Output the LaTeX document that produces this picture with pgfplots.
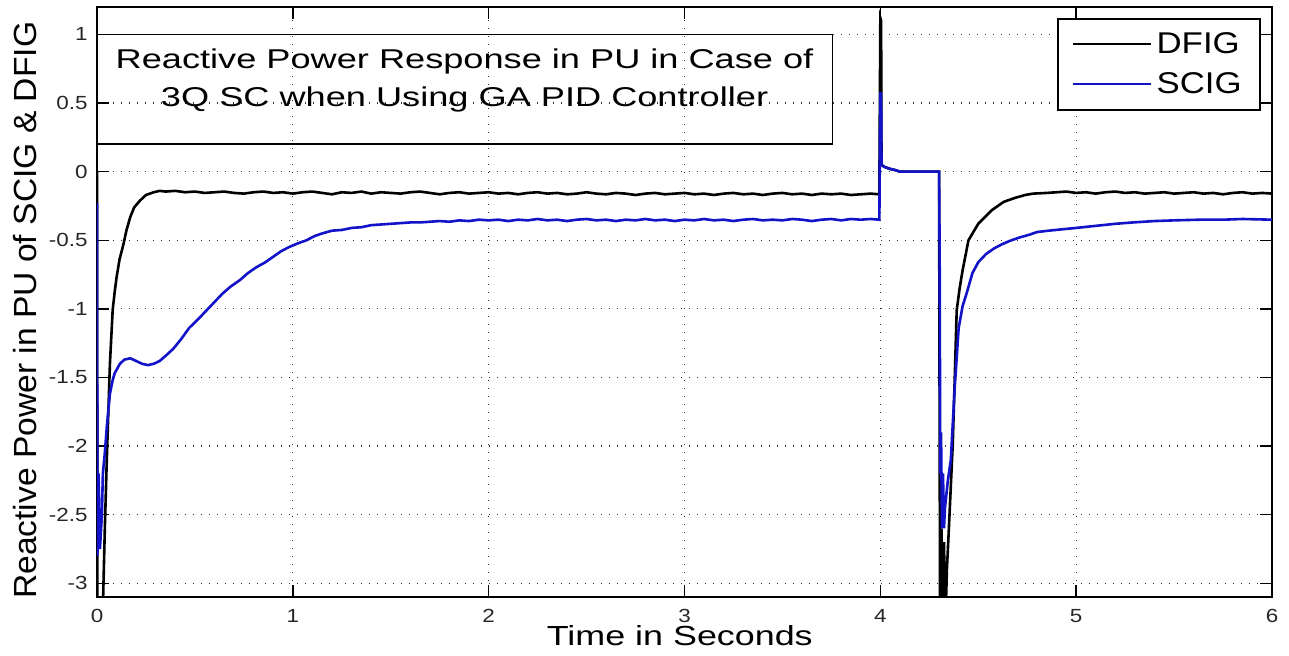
\documentclass[border=0pt]{standalone}
\usepackage{fontspec}
\setmainfont{Liberation Sans}
\newfontfamily\titlefont[FakeStretch=1.33]{Liberation Sans}
\newfontfamily\labfont[FakeStretch=1.3]{Liberation Sans}
\newfontfamily\tickfont[FakeStretch=1.18]{Liberation Sans}
\newfontfamily\legfont[FakeStretch=1.16]{Liberation Sans}
\newfontfamily\yfont[FakeStretch=1.05]{Liberation Sans}
\usepackage{pgfplots}
\pgfplotsset{compat=1.18}
\definecolor{scig}{RGB}{18,18,200}

\begin{document}
\begin{tikzpicture}
\path[use as bounding box] (-48.5pt,-29pt) rectangle (596pt,298.5pt);
\begin{axis}[
  at={(0pt,0pt)}, anchor=south west,
  scale only axis, width=587.5pt, height=295pt,
  xmin=0, xmax=6, ymin=-3.1, ymax=1.2,
  xtick={0,1,2,3,4,5,6},
  xticklabels={0,1,2,3,4,5,6},
  ytick={-3,-2.5,-2,-1.5,-1,-0.5,0,0.5,1},
  yticklabels={-3,-2.5,-2,-1.5,-1,-0.5,0,0.5,1},
  tick align=inside,
  major tick length=6pt,
  axis line style={line width=0.8pt},
  every tick/.style={black, line width=0.7pt},
  grid=major,
  major grid style={black!80, line width=0.6pt, dash pattern=on 0.6pt off 3.4pt},
  xticklabel style={font=\tickfont\fontsize{9.5}{11}\selectfont, text=black!85, anchor=base, yshift=-12.5pt},
  yticklabel style={font=\tickfont\fontsize{9.5}{11}\selectfont, text=black!85, anchor=east, inner sep=0pt, xshift=-4.5pt},
  xlabel={Time in Seconds},
  xlabel style={font=\labfont\fontsize{13.8}{16}\selectfont, at={(rel axis cs:0.496,0)}, anchor=center, yshift=-19.5pt, inner sep=0pt},
  ylabel={Reactive Power in PU of SCIG \& DFIG},
  ylabel style={font=\yfont\fontsize{16}{19}\selectfont, at={(rel axis cs:0,0.486)}, anchor=center, yshift=36pt, inner sep=0pt},
  legend cell align=left,
  legend image code/.code={\draw[#1, line width=1pt] (0pt,0pt) -- (39pt,0pt);},
  legend style={at={(rel axis cs:1,1)}, anchor=north east, xshift=-5.5pt, yshift=-5.5pt,
    draw=black, line width=0.8pt, inner xsep=6.75pt, inner ysep=6.75pt, row sep=8pt,
    font=\legfont\fontsize{15}{18}\selectfont,
    nodes={inner ysep=0pt, inner xsep=2.5pt}},
  clip=true,
]
% DFIG
\addplot[black, line width=1.3pt] coordinates {
(0,0) (0.002,-3.3) (0.028,-3.3) (0.04,-2.6) (0.05,-2.1) (0.058,-1.75)
(0.066,-1.40) (0.08,-1.01) (0.09,-0.88) (0.10,-0.77) (0.115,-0.64)
(0.135,-0.53) (0.15,-0.43) (0.17,-0.33) (0.19,-0.26) (0.22,-0.21)
(0.25,-0.17) (0.29,-0.15) (0.32,-0.14)
(0.35,-0.145) (0.40,-0.14) (0.45,-0.15) (0.50,-0.145) (0.55,-0.155)
(0.60,-0.15) (0.65,-0.145) (0.70,-0.155) (0.75,-0.16) (0.80,-0.15)
(0.85,-0.145) (0.90,-0.155) (0.95,-0.15) (1.00,-0.16) (1.05,-0.15)
(1.10,-0.145) (1.15,-0.155) (1.20,-0.165) (1.25,-0.15) (1.30,-0.155)
(1.35,-0.145) (1.40,-0.16) (1.45,-0.15) (1.50,-0.155) (1.55,-0.16)
(1.60,-0.15) (1.65,-0.145) (1.70,-0.155) (1.75,-0.165) (1.80,-0.155)
(1.85,-0.15) (1.90,-0.16) (1.95,-0.155) (2.00,-0.15) (2.05,-0.16)
(2.10,-0.155) (2.15,-0.165) (2.20,-0.155) (2.25,-0.15) (2.30,-0.16)
(2.35,-0.155) (2.40,-0.165) (2.45,-0.16) (2.50,-0.15) (2.55,-0.16)
(2.60,-0.165) (2.65,-0.155) (2.70,-0.16) (2.75,-0.17) (2.80,-0.16)
(2.85,-0.155) (2.90,-0.165) (2.95,-0.16) (3.00,-0.155) (3.05,-0.165)
(3.10,-0.16) (3.15,-0.17) (3.20,-0.16) (3.25,-0.155) (3.30,-0.165)
(3.35,-0.16) (3.40,-0.17) (3.45,-0.16) (3.50,-0.155) (3.55,-0.165)
(3.60,-0.16) (3.65,-0.17) (3.70,-0.16) (3.75,-0.165) (3.80,-0.16)
(3.85,-0.17) (3.90,-0.165) (3.95,-0.16) (3.995,-0.165)
(4.000,1.12) (4.004,1.10) (4.006,0.05) (4.02,0.035) (4.05,0.02)
(4.08,0.01) (4.10,0.0) (4.30,0.0)
(4.305,-3.3) (4.312,-2.6) (4.318,-3.3) (4.325,-2.7) (4.332,-3.3)
(4.34,-2.9) (4.35,-2.6) (4.37,-1.98) (4.38,-1.5)
(4.39,-1.01) (4.405,-0.85) (4.42,-0.72) (4.45,-0.50) (4.50,-0.38)
(4.57,-0.28) (4.63,-0.22) (4.69,-0.19) (4.74,-0.17) (4.78,-0.16)
(4.85,-0.155) (4.90,-0.15) (4.95,-0.145) (5.00,-0.155) (5.05,-0.15)
(5.10,-0.16) (5.15,-0.15) (5.20,-0.145) (5.25,-0.155) (5.30,-0.15)
(5.35,-0.16) (5.40,-0.155) (5.45,-0.15) (5.50,-0.16) (5.55,-0.155)
(5.60,-0.15) (5.65,-0.16) (5.70,-0.155) (5.75,-0.165) (5.80,-0.155)
(5.85,-0.15) (5.90,-0.16) (5.95,-0.155) (6.00,-0.16)
};
% SCIG
\addplot[scig, line width=1.3pt] coordinates {
(0,-0.23) (0.002,-2.8) (0.008,-2.2) (0.015,-2.75) (0.025,-2.5) (0.03,-2.2) (0.04,-2.05)
(0.05,-1.86) (0.066,-1.62) (0.08,-1.52) (0.09,-1.47) (0.117,-1.40)
(0.14,-1.37) (0.17,-1.36) (0.20,-1.38) (0.23,-1.40) (0.26,-1.41)
(0.29,-1.40) (0.32,-1.38) (0.36,-1.33) (0.39,-1.29) (0.43,-1.22)
(0.47,-1.14) (0.52,-1.07) (0.56,-1.01) (0.60,-0.95) (0.64,-0.89)
(0.68,-0.84) (0.73,-0.79) (0.77,-0.74) (0.81,-0.70) (0.86,-0.66)
(0.90,-0.62) (0.94,-0.58) (0.98,-0.55) (1.03,-0.52) (1.07,-0.50)
(1.11,-0.47) (1.15,-0.45) (1.20,-0.43) (1.25,-0.425) (1.30,-0.41)
(1.35,-0.405) (1.40,-0.39) (1.45,-0.385) (1.50,-0.38) (1.55,-0.375)
(1.60,-0.37) (1.65,-0.37) (1.70,-0.365) (1.75,-0.36) (1.80,-0.365)
(1.85,-0.355) (1.90,-0.36) (1.95,-0.35) (2.00,-0.355) (2.05,-0.35)
(2.10,-0.36) (2.15,-0.35) (2.20,-0.355) (2.25,-0.345) (2.30,-0.355)
(2.35,-0.35) (2.40,-0.36) (2.45,-0.35) (2.50,-0.345) (2.55,-0.355)
(2.60,-0.35) (2.65,-0.36) (2.70,-0.35) (2.75,-0.355) (2.80,-0.345)
(2.85,-0.355) (2.90,-0.35) (2.95,-0.36) (3.00,-0.35) (3.05,-0.355)
(3.10,-0.345) (3.15,-0.355) (3.20,-0.35) (3.25,-0.36) (3.30,-0.35)
(3.35,-0.345) (3.40,-0.355) (3.45,-0.35) (3.50,-0.355) (3.55,-0.345)
(3.60,-0.35) (3.65,-0.36) (3.70,-0.35) (3.75,-0.345) (3.80,-0.355)
(3.85,-0.345) (3.90,-0.35) (3.95,-0.345) (3.995,-0.35)
(4.000,0.58) (4.004,0.55) (4.006,0.05) (4.02,0.035) (4.05,0.02)
(4.08,0.01) (4.10,0.0) (4.30,0.0)
(4.303,-0.62) (4.306,-2.2) (4.31,-1.9) (4.315,-2.6) (4.32,-2.2)
(4.325,-2.6) (4.33,-2.45) (4.345,-2.25)
(4.36,-2.1) (4.38,-1.57) (4.40,-1.14) (4.42,-0.98) (4.44,-0.89)
(4.47,-0.74) (4.50,-0.66) (4.54,-0.60) (4.58,-0.56) (4.62,-0.53)
(4.66,-0.505) (4.71,-0.48) (4.76,-0.46) (4.80,-0.44) (4.86,-0.43)
(4.93,-0.42) (5.00,-0.41) (5.10,-0.395) (5.20,-0.38) (5.29,-0.37)
(5.40,-0.36) (5.50,-0.355) (5.63,-0.35) (5.75,-0.35) (5.85,-0.345)
(6.00,-0.35)
};
\legend{DFIG,SCIG}
\draw[line width=0.8pt] (axis cs:0,0.2) rectangle (axis cs:3.755,1.0);
\node[align=center, inner sep=0pt, font=\titlefont\fontsize{13.6}{19}\selectfont]
  at (axis cs:1.877,0.665) {Reactive Power Response in PU in Case of\\3Q SC when Using GA PID Controller};
\end{axis}
\end{tikzpicture}
\end{document}
